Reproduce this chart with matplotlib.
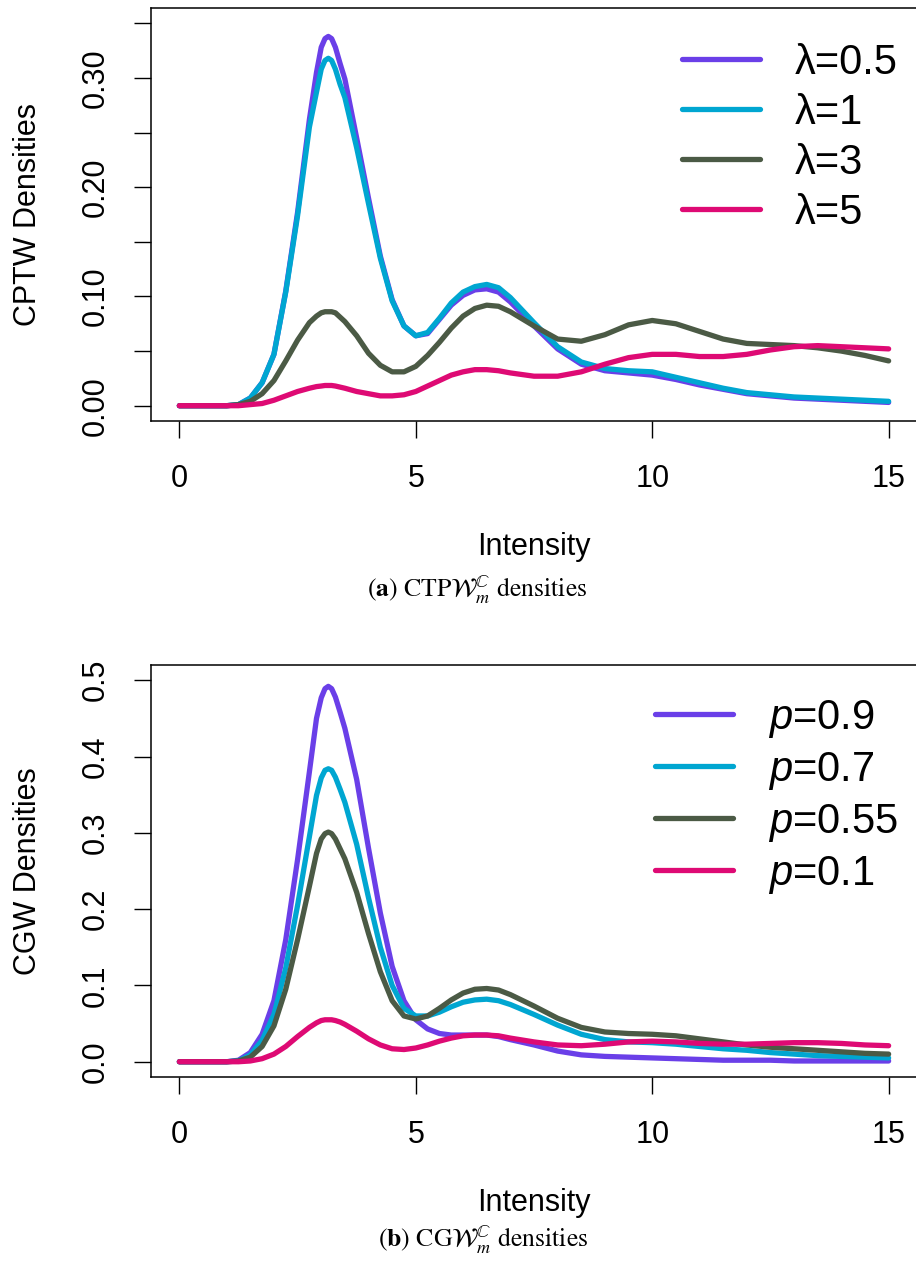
import matplotlib
matplotlib.use("Agg")
import matplotlib.pyplot as plt

plt.rcParams['font.family'] = ['Liberation Sans', 'DejaVu Sans']
plt.rcParams['mathtext.fontset'] = 'custom'
plt.rcParams['mathtext.rm'] = 'Liberation Sans'
plt.rcParams['mathtext.it'] = 'Liberation Sans:italic'

# intensity grid
x = [0, 0.5, 1, 1.25, 1.5, 1.75, 2, 2.25, 2.5, 2.75, 2.9, 3.0, 3.08, 3.15, 3.22, 3.3, 3.4, 3.5, 3.75,
     4, 4.25, 4.5, 4.75, 5, 5.25, 5.5, 5.75, 6, 6.25, 6.5, 6.75, 7, 7.5, 8,
     8.5, 9, 9.5, 10, 10.5, 11, 11.5, 12, 12.5, 13, 13.5, 14, 14.5, 15]

# panel (a): CPTW densities
lam05 = [0, 0, 0, 0.001, 0.007, 0.021, 0.047, 0.105, 0.177, 0.262, 0.305, 0.328, 0.336, 0.338, 0.336, 0.328, 0.313, 0.299, 0.245,
         0.190, 0.137, 0.097, 0.073, 0.064, 0.066, 0.079, 0.092, 0.101, 0.106, 0.107, 0.104, 0.095, 0.073, 0.052,
         0.038, 0.032, 0.030, 0.028, 0.024, 0.019, 0.015, 0.011, 0.009, 0.007, 0.006, 0.005, 0.004, 0.003]
lam1 = [0, 0, 0, 0.001, 0.007, 0.021, 0.047, 0.104, 0.174, 0.255, 0.287, 0.308, 0.316, 0.318, 0.316, 0.308, 0.294, 0.282, 0.236,
        0.185, 0.135, 0.096, 0.073, 0.064, 0.067, 0.080, 0.094, 0.104, 0.109, 0.111, 0.108, 0.099, 0.076, 0.054,
        0.040, 0.034, 0.032, 0.031, 0.026, 0.021, 0.016, 0.012, 0.010, 0.008, 0.007, 0.006, 0.005, 0.004]
lam3 = [0, 0, 0, 0.001, 0.004, 0.011, 0.023, 0.041, 0.060, 0.076, 0.082, 0.085, 0.086, 0.086, 0.086, 0.085, 0.081, 0.077, 0.064,
        0.048, 0.037, 0.031, 0.031, 0.036, 0.046, 0.058, 0.071, 0.082, 0.089, 0.092, 0.091, 0.086, 0.073, 0.061,
        0.059, 0.065, 0.074, 0.078, 0.075, 0.068, 0.061, 0.057, 0.056, 0.055, 0.053, 0.050, 0.046, 0.041]
lam5 = [0, 0, 0, 0, 0.001, 0.002, 0.005, 0.009, 0.013, 0.016, 0.0175, 0.018, 0.0185, 0.0185, 0.0185, 0.018, 0.017, 0.016, 0.013,
        0.011, 0.009, 0.009, 0.010, 0.013, 0.018, 0.023, 0.028, 0.031, 0.033, 0.033, 0.032, 0.030, 0.027, 0.027,
        0.031, 0.038, 0.044, 0.047, 0.047, 0.045, 0.045, 0.047, 0.051, 0.054, 0.055, 0.054, 0.053, 0.052]

# panel (b): CGW densities
p09 = [0, 0, 0, 0.002, 0.012, 0.036, 0.080, 0.160, 0.265, 0.380, 0.450, 0.477, 0.489, 0.492, 0.489, 0.478, 0.458, 0.437, 0.370,
       0.280, 0.195, 0.125, 0.080, 0.055, 0.043, 0.037, 0.035, 0.035, 0.035, 0.035, 0.033, 0.029, 0.022, 0.014,
       0.009, 0.007, 0.006, 0.005, 0.004, 0.003, 0.002, 0.002, 0.002, 0.001, 0.001, 0.001, 0.001, 0.001]
p07 = [0, 0, 0, 0.001, 0.009, 0.028, 0.062, 0.123, 0.205, 0.295, 0.349, 0.372, 0.382, 0.384, 0.382, 0.373, 0.357, 0.340, 0.285,
       0.215, 0.150, 0.100, 0.070, 0.060, 0.060, 0.065, 0.072, 0.078, 0.081, 0.082, 0.080, 0.075, 0.062, 0.048,
       0.036, 0.029, 0.026, 0.025, 0.023, 0.020, 0.017, 0.015, 0.012, 0.010, 0.008, 0.007, 0.006, 0.005]
p055 = [0, 0, 0, 0.001, 0.006, 0.020, 0.047, 0.095, 0.160, 0.230, 0.273, 0.292, 0.299, 0.301, 0.299, 0.292, 0.279, 0.266, 0.222,
        0.168, 0.118, 0.080, 0.060, 0.056, 0.060, 0.070, 0.081, 0.090, 0.095, 0.096, 0.094, 0.088, 0.073, 0.057,
        0.045, 0.039, 0.037, 0.036, 0.034, 0.030, 0.026, 0.022, 0.019, 0.017, 0.015, 0.013, 0.011, 0.010]
p01 = [0, 0, 0, 0, 0.001, 0.004, 0.010, 0.020, 0.033, 0.045, 0.051, 0.054, 0.055, 0.055, 0.055, 0.054, 0.052, 0.049, 0.040,
       0.030, 0.022, 0.017, 0.016, 0.018, 0.022, 0.027, 0.031, 0.034, 0.035, 0.035, 0.034, 0.031, 0.026, 0.022,
       0.021, 0.023, 0.026, 0.027, 0.026, 0.024, 0.023, 0.023, 0.024, 0.025, 0.025, 0.024, 0.022, 0.021]

colors = ['#6A3FE8', '#00A6D1', '#4B5A45', '#DE0A74']
labels_a = ['λ=0.5', 'λ=1', 'λ=3', 'λ=5']
labels_b = [r'$p$=0.9', r'$p$=0.7', r'$p$=0.55', r'$p$=0.1']
xticks = [0, 5, 10, 15]

fig = plt.figure(figsize=(9.16, 12.61), dpi=100)
ax1 = fig.add_axes([151 / 916, 1 - 421 / 1261, 766 / 916, 413 / 1261])
ax2 = fig.add_axes([151 / 916, 1 - 1077 / 1261, 766 / 916, 412 / 1261])


def style(ax, series, labels, yt, ylab, ylim, leg_xy):
    for y, c, lab in zip(series, colors, labels):
        ax.plot(x, y, color=c, lw=3.8, label=lab, solid_capstyle='round', solid_joinstyle='round')
    ax.set_xlim(-0.6, 15.6)
    ax.set_ylim(*ylim)
    ax.set_xticks(xticks)
    ax.set_xticklabels([str(t) for t in xticks])
    ax.set_yticks(yt[0])
    ax.set_yticklabels(yt[1], rotation=90, va='center')
    ax.tick_params(direction='out', length=12, width=1, labelsize=22, pad=17)
    ax.tick_params(axis='x', pad=19)
    for s in ax.spines.values():
        s.set_linewidth(1.1)
    ax.set_xlabel('Intensity', fontsize=22, va='center')
    ax.xaxis.set_label_coords(0.5, -126 / 413)
    ax.set_ylabel(ylab, fontsize=22, va='center')
    ax.yaxis.set_label_coords(-123 / 766, 0.5)
    ax.legend(loc='upper left', bbox_to_anchor=leg_xy, bbox_transform=fig.transFigure,
              frameon=False, fontsize=30, handlelength=1.87, handletextpad=0.84,
              labelspacing=0.24, borderpad=0, borderaxespad=0)


yt_a = ([0, 0.05, 0.10, 0.15, 0.20, 0.25, 0.30, 0.35],
        ['0.00', '', '0.10', '', '0.20', '', '0.30', ''])
yt_b = ([0, 0.1, 0.2, 0.3, 0.4, 0.5], ['0.0', '0.1', '0.2', '0.3', '0.4', '0.5'])

style(ax1, [lam05, lam1, lam3, lam5], labels_a, yt_a, 'CPTW Densities',
      (-0.014, 0.364), (682 / 916, 1 - 43 / 1261))
style(ax2, [p09, p07, p055, p01], labels_b, yt_b, 'CGW Densities',
      (-0.02, 0.52), (655 / 916, 1 - 698 / 1261))

fig.text(477 / 916, 1 - 590 / 1261, r'($\mathbf{a}$) CTP$\mathcal{W}_m^{\mathbb{C}}$ densities',
         ha='center', va='center', fontsize=18.5, family='STIXGeneral', math_fontfamily='stix')
fig.text(483 / 916, 1 - 1240 / 1261, r'($\mathbf{b}$) CG$\mathcal{W}_m^{\mathbb{C}}$ densities',
         ha='center', va='center', fontsize=18.5, family='STIXGeneral', math_fontfamily='stix')

fig.savefig('out.png', dpi=100)
